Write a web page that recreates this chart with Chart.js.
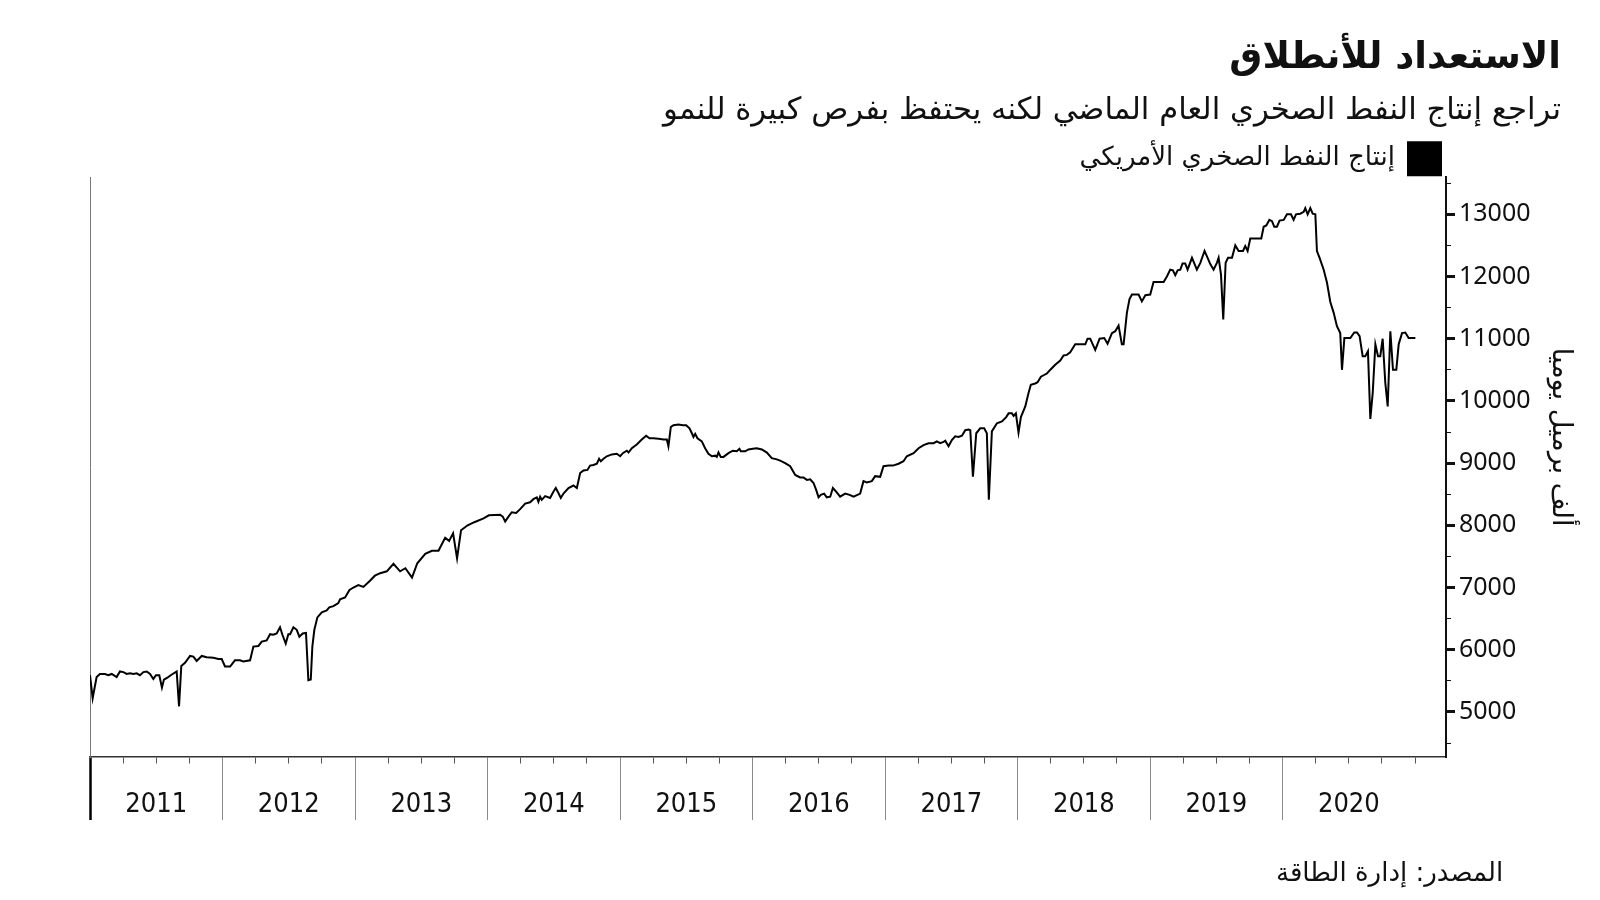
<!DOCTYPE html>
<html lang="ar">
<head>
  <meta charset="UTF-8">
  <title>الاستعداد للأنطلاق</title>
  <script src="https://cdn.jsdelivr.net/npm/chart.js"></script>
  <style>
    html, body { margin: 0; padding: 0; background: #fff; }
    #wrap { width: 1600px; height: 900px; position: relative; }
  </style>
</head>
<body>
<div id="wrap"><canvas id="shaleChart"></canvas></div>

<script>
  const chartTitle = 'الاستعداد للأنطلاق';
  const chartSubtitle = 'تراجع إنتاج النفط الصخري العام الماضي لكنه يحتفظ بفرص كبيرة للنمو';
  const seriesName = 'إنتاج النفط الصخري الأمريكي';
  const yAxisName = 'ألف برميل يوميا';
  const sourceNote = 'المصدر: إدارة الطاقة';

  const yearLabels = ['2011', '2012', '2013', '2014', '2015', '2016', '2017', '2018', '2019', '2020'];

  // week position as decimal year
  const weekPos = [
    2011.000, 2011.020, 2011.050, 2011.075, 2011.113, 2011.138, 2011.164, 2011.201, 2011.226, 2011.252,
    2011.277, 2011.302, 2011.327, 2011.352, 2011.377, 2011.403, 2011.428, 2011.453, 2011.478, 2011.498,
    2011.523, 2011.543, 2011.558, 2011.584, 2011.609, 2011.654, 2011.672, 2011.689, 2011.717, 2011.755,
    2011.780, 2011.805, 2011.843, 2011.881, 2011.931, 2011.969, 2011.994, 2012.019, 2012.057, 2012.094,
    2012.132, 2012.157, 2012.208, 2012.233, 2012.271, 2012.296, 2012.333, 2012.359, 2012.384, 2012.409,
    2012.434, 2012.452, 2012.477, 2012.497, 2012.510, 2012.535, 2012.560, 2012.580, 2012.605, 2012.630,
    2012.648, 2012.666, 2012.678, 2012.693, 2012.716, 2012.749, 2012.786, 2012.806, 2012.837, 2012.874,
    2012.887, 2012.925, 2012.958, 2012.988, 2013.025, 2013.063, 2013.113, 2013.150, 2013.190, 2013.240,
    2013.290, 2013.340, 2013.380, 2013.430, 2013.470, 2013.530, 2013.580, 2013.630, 2013.680, 2013.710,
    2013.740, 2013.770, 2013.800, 2013.850, 2013.900, 2013.970, 2014.010, 2014.095, 2014.115, 2014.133,
    2014.158, 2014.183, 2014.216, 2014.246, 2014.284, 2014.321, 2014.346, 2014.372, 2014.384, 2014.397,
    2014.409, 2014.435, 2014.472, 2014.497, 2014.515, 2014.535, 2014.553, 2014.573, 2014.611, 2014.648,
    2014.674, 2014.699, 2014.724, 2014.754, 2014.774, 2014.799, 2014.825, 2014.842, 2014.855, 2014.875,
    2014.900, 2014.938, 2014.975, 2015.001, 2015.021, 2015.051, 2015.064, 2015.089, 2015.126, 2015.164,
    2015.197, 2015.222, 2015.252, 2015.290, 2015.328, 2015.353, 2015.365, 2015.383, 2015.403, 2015.441,
    2015.474, 2015.499, 2015.524, 2015.542, 2015.554, 2015.567, 2015.584, 2015.617, 2015.642, 2015.667,
    2015.693, 2015.718, 2015.730, 2015.743, 2015.760, 2015.781, 2015.818, 2015.851, 2015.881, 2015.901,
    2015.911, 2015.944, 2015.969, 2016.002, 2016.032, 2016.070, 2016.108, 2016.145, 2016.183, 2016.208,
    2016.246, 2016.284, 2016.322, 2016.359, 2016.384, 2016.410, 2016.435, 2016.460, 2016.480, 2016.498,
    2016.515, 2016.540, 2016.560, 2016.586, 2016.606, 2016.623, 2016.661, 2016.699, 2016.732, 2016.762,
    2016.792, 2016.812, 2016.837, 2016.862, 2016.900, 2016.925, 2016.963, 2016.988, 2017.026, 2017.059,
    2017.102, 2017.139, 2017.164, 2017.215, 2017.253, 2017.290, 2017.328, 2017.366, 2017.391, 2017.416,
    2017.441, 2017.454, 2017.479, 2017.504, 2017.529, 2017.554, 2017.580, 2017.605, 2017.630, 2017.643,
    2017.663, 2017.688, 2017.718, 2017.748, 2017.768, 2017.783, 2017.806, 2017.844, 2017.882, 2017.914,
    2017.932, 2017.957, 2017.970, 2017.987, 2018.007, 2018.025, 2018.058, 2018.083, 2018.100, 2018.133,
    2018.151, 2018.176, 2018.221, 2018.251, 2018.284, 2018.322, 2018.347, 2018.372, 2018.397, 2018.435,
    2018.473, 2018.511, 2018.528, 2018.548, 2018.586, 2018.619, 2018.654, 2018.679, 2018.712, 2018.737,
    2018.762, 2018.787, 2018.800, 2018.825, 2018.845, 2018.863, 2018.913, 2018.938, 2018.964, 2019.001,
    2019.026, 2019.064, 2019.102, 2019.127, 2019.152, 2019.172, 2019.190, 2019.208, 2019.228, 2019.245,
    2019.265, 2019.283, 2019.316, 2019.353, 2019.379, 2019.411, 2019.434, 2019.454, 2019.479, 2019.504,
    2019.517, 2019.535, 2019.552, 2019.570, 2019.588, 2019.618, 2019.643, 2019.668, 2019.701, 2019.718,
    2019.736, 2019.756, 2019.794, 2019.839, 2019.857, 2019.877, 2019.900, 2019.920, 2019.937, 2019.957,
    2019.977, 2020.008, 2020.033, 2020.063, 2020.083, 2020.101, 2020.133, 2020.159, 2020.171, 2020.189,
    2020.209, 2020.227, 2020.247, 2020.259, 2020.279, 2020.310, 2020.335, 2020.360, 2020.385, 2020.410,
    2020.435, 2020.448, 2020.466, 2020.511, 2020.541, 2020.561, 2020.581, 2020.604, 2020.624, 2020.644,
    2020.662, 2020.680, 2020.700, 2020.720, 2020.737, 2020.755, 2020.775, 2020.793, 2020.813, 2020.833,
    2020.858, 2020.876, 2020.901, 2020.926, 2020.951, 2021.002
  ];

  // thousand barrels per day
  const shaleOutput = [
    5590, 5220, 5560, 5610, 5610, 5590, 5610, 5560, 5650, 5640,
    5610, 5620, 5610, 5620, 5590, 5640, 5650, 5610, 5530, 5590,
    5590, 5390, 5520, 5550, 5590, 5650, 5090, 5740, 5790, 5900,
    5890, 5820, 5900, 5880, 5870, 5850, 5850, 5730, 5730, 5830,
    5830, 5810, 5830, 6050, 6060, 6130, 6150, 6250, 6240, 6260,
    6360, 6240, 6100, 6250, 6250, 6360, 6320, 6210, 6260, 6270,
    5510, 5520, 6050, 6320, 6520, 6600, 6630, 6680, 6700, 6750,
    6810, 6840, 6960, 7000, 7040, 7010, 7110, 7190, 7230, 7260,
    7380, 7260, 7310, 7160, 7390, 7540, 7590, 7590, 7800, 7750,
    7870, 7470, 7920, 8000, 8050, 8110, 8160, 8170, 8140, 8060,
    8140, 8210, 8200, 8260, 8350, 8370, 8420, 8450, 8380, 8460,
    8410, 8470, 8440, 8540, 8600, 8520, 8440, 8510, 8600, 8640,
    8600, 8840, 8880, 8890, 8960, 8970, 8990, 9070, 9030, 9070,
    9110, 9140, 9150, 9110, 9160, 9200, 9170, 9240, 9300, 9380,
    9440, 9400, 9400, 9390, 9380, 9380, 9270, 9580, 9610, 9620,
    9610, 9610, 9560, 9480, 9420, 9470, 9400, 9350, 9240, 9150,
    9110, 9120, 9100, 9170, 9100, 9100, 9160, 9200, 9190, 9230,
    9190, 9190, 9220, 9230, 9240, 9220, 9170, 9080, 9060, 9040,
    9000, 8950, 8810, 8770, 8770, 8730, 8740, 8680, 8570, 8450,
    8490, 8510, 8450, 8460, 8600, 8560, 8460, 8510, 8490, 8460,
    8490, 8510, 8710, 8690, 8710, 8790, 8780, 8950, 8960, 8960,
    8990, 9030, 9110, 9160, 9240, 9290, 9320, 9320, 9350, 9320,
    9340, 9360, 9270, 9370, 9430, 9420, 9440, 9530, 9540, 9530,
    8780, 9480, 9560, 9560, 9480, 8410, 9510, 9640, 9670, 9740,
    9800, 9800, 9760, 9800, 9490, 9740, 9910, 10130, 10260, 10280,
    10300, 10390, 10440, 10510, 10580, 10650, 10730, 10740, 10780, 10910,
    10910, 10910, 11000, 11000, 10820, 11000, 11010, 10920, 11090, 11120,
    11210, 10910, 10910, 11420, 11640, 11710, 11710, 11600, 11700, 11710,
    11910, 11910, 11910, 12000, 12110, 12100, 12020, 12100, 12110, 12210,
    12210, 12110, 12300, 12110, 12220, 12410, 12300, 12200, 12110, 12220,
    12300, 12030, 11310, 12220, 12300, 12300, 12500, 12410, 12410, 12490,
    12410, 12610, 12610, 12610, 12800, 12820, 12910, 12890, 12800, 12800,
    12900, 12910, 13000, 13000, 12910, 13000, 13010, 13040, 13100, 13000,
    13100, 13010, 13000, 12410, 12300, 12110, 11900, 11590, 11420, 11200,
    11090, 10500, 11010, 11010, 11100, 11100, 11040, 10720, 10720, 10800,
    9710, 10130, 10910, 10720, 10720, 11000, 10290, 9910, 11120, 10500,
    10500, 10910, 11090, 11100, 11010, 11010
  ];

  const arabicFont = "'DejaVu Sans', 'Noto Sans', sans-serif";

  const isYearStart = v => Math.abs(v - Math.round(v)) < 1e-6 && v < 2021;
  const isMidYear = v => Math.abs((v % 1) - 0.5) < 1e-6;
  const isThousand = v => v % 1000 === 0;

  const points = weekPos.map((x, i) => ({ x: x, y: shaleOutput[i] }));

  const ctx = document.getElementById('shaleChart').getContext('2d');
  const chart = new Chart(ctx, {
    type: 'line',
    data: {
      datasets: [{
        label: seriesName,
        data: points,
        borderColor: '#000',
        backgroundColor: '#000',
        borderWidth: 2,
        pointRadius: 0,
        tension: 0,
        xAxisID: 'x',
        yAxisID: 'y'
      }]
    },
    options: {
      responsive: true,
      maintainAspectRatio: false,
      animation: false,
      layout: { padding: { left: 90, right: 39, top: 0, bottom: 0 } },
      plugins: {
        title: {
          display: true,
          text: chartTitle,
          align: 'end',
          color: '#111',
          font: { family: arabicFont, size: 37, weight: 'bold' },
          padding: { top: 36, bottom: 10 }
        },
        subtitle: {
          display: true,
          text: chartSubtitle,
          align: 'end',
          color: '#111',
          font: { family: arabicFont, size: 30.7 },
          padding: { top: 2, bottom: 8 }
        },
        legend: {
          display: true,
          position: 'top',
          fullSize: false,
          align: 'start',
          rtl: true,
          textDirection: 'rtl',
          maxHeight: 40,
          labels: {
            boxWidth: 33,
            boxHeight: 33,
            padding: 5,
            color: '#111',
            font: { family: arabicFont, size: 26 }
          }
        },
        tooltip: { enabled: false }
      },
      scales: {
        x: {
          type: 'linear',
          position: 'bottom',
          weight: 0,
          min: 2011,
          max: 2021.233,
          afterBuildTicks: scale => {
            const ticks = [];
            for (let q = 0; q <= 40; q++) ticks.push({ value: 2011 + q * 0.25 });
            scale.ticks = ticks;
          },
          afterFit: scale => { scale.height = 83; },
          border: { display: true, color: '#333', width: 1.5 },
          grid: {
            display: true,
            drawOnChartArea: false,
            tickLength: 63,
            tickColor: c => {
              const v = c.tick ? c.tick.value : 0;
              if (v === 2011) return '#000';
              return isYearStart(v) ? '#8a8a8a' : '#555';
            },
            tickWidth: c => (c.tick && c.tick.value === 2011) ? 2.5 : 1,
            tickBorderDash: c => (c.tick && isYearStart(c.tick.value)) ? [] : [6, 200]
          },
          ticks: {
            autoSkip: false,
            maxRotation: 0,
            minRotation: 0,
            padding: -31,
            color: '#111',
            font: { family: "'DejaVu Sans Condensed', sans-serif", size: 27 },
            callback: value => isMidYear(value) ? yearLabels[Math.floor(value) - 2011] : ''
          }
        },
        // carries the source line across the full width, under the year labels
        src: {
          type: 'linear',
          position: 'bottom',
          weight: 10,
          fullSize: true,
          min: 0,
          max: 1,
          afterFit: scale => { scale.height = 60; },
          grid: { display: false },
          ticks: { display: false },
          border: { display: false },
          title: {
            display: true,
            text: sourceNote + '\u0020\u0020\u0020\u0020\u0020\u0020\u0020',
            align: 'end',
            color: '#111',
            font: { family: arabicFont, size: 26 },
            padding: { top: 0, bottom: 10 }
          }
        },
        y: {
          type: 'linear',
          position: 'right',
          min: 4275,
          max: 13596,
          afterBuildTicks: scale => {
            const ticks = [];
            for (let v = 4500; v <= 13500; v += 500) ticks.push({ value: v });
            scale.ticks = ticks;
          },
          afterFit: scale => { scale.width = 115; },
          border: { display: true, color: '#111', width: 2 },
          grid: {
            display: true,
            drawOnChartArea: false,
            tickLength: 9,
            tickColor: '#111',
            tickWidth: c => (c.tick && isThousand(c.tick.value)) ? 3 : 1,
            tickBorderDash: c => (c.tick && isThousand(c.tick.value)) ? [] : [4, 60]
          },
          ticks: {
            autoSkip: false,
            padding: 4,
            color: '#111',
            font: { family: "'Noto Sans', sans-serif", size: 25 },
            callback: value => isThousand(value) ? String(value) : ''
          },
          title: {
            display: true,
            text: yAxisName + '\u0020\u0020\u0020\u0020\u0020\u0020\u0020',
            color: '#111',
            font: { family: arabicFont, size: 27 },
            padding: { top: -15, bottom: 0 }
          }
        },
        yl: {
          type: 'linear',
          position: 'left',
          min: 4275,
          max: 13596,
          afterFit: scale => { scale.width = 0; },
          grid: { display: false },
          ticks: { display: false },
          border: { display: true, color: '#777', width: 1 }
        }
      }
    }
  });
</script>
</body>
</html>
